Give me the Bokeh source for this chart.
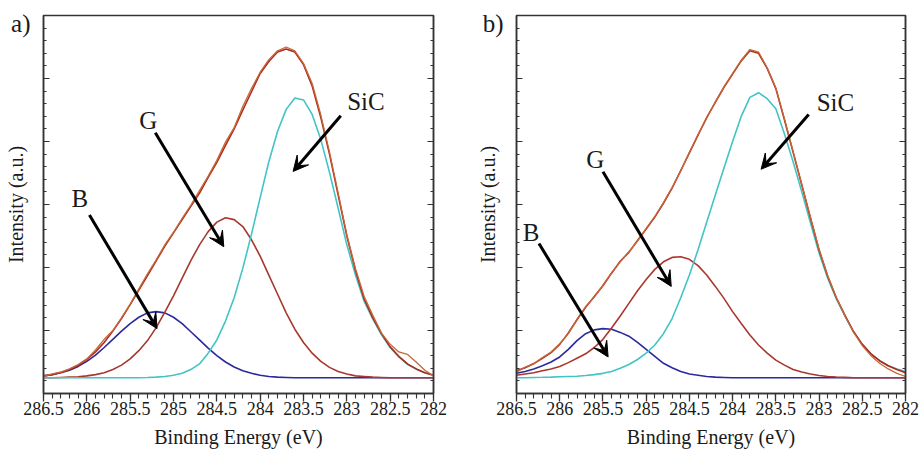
from bokeh.plotting import figure
from bokeh.layouts import row
from bokeh.models import (Range1d, LinearAxis, FixedTicker, CustomJSTickFormatter,
                          Arrow, VeeHead, Label)
from bokeh.embed import file_html
from bokeh.resources import INLINE

# ---------------- data ----------------
energy = [286.5, 286.4, 286.3, 286.2, 286.1, 286.0, 285.9, 285.8, 285.7, 285.6,
          285.5, 285.4, 285.3, 285.2, 285.1, 285.0, 284.9, 284.8, 284.7, 284.6,
          284.5, 284.4, 284.3, 284.2, 284.1, 284.0, 283.9, 283.8, 283.7, 283.6,
          283.5, 283.4, 283.3, 283.2, 283.1, 283.0, 282.9, 282.8, 282.7, 282.6,
          282.5, 282.4, 282.3, 282.2, 282.1, 282.0]

# panel a)
raw_a = [0.27, 0.31, 0.34, 0.39, 0.46, 0.55, 0.69, 0.86, 1.00, 1.20,
         1.42, 1.66, 1.90, 2.12, 2.36, 2.56, 2.78, 2.99, 3.22, 3.45,
         3.70, 3.99, 4.22, 4.56, 4.84, 5.10, 5.30, 5.44, 5.50, 5.44,
         5.24, 4.92, 4.42, 3.83, 3.18, 2.52, 1.98, 1.54, 1.24, 0.96,
         0.78, 0.66, 0.62, 0.50, 0.37, 0.28]
fit_a = [0.28, 0.30, 0.335, 0.38, 0.445, 0.54, 0.66, 0.81, 0.99, 1.19,
         1.41, 1.64, 1.87, 2.105, 2.34, 2.55, 2.76, 2.97, 3.18, 3.43,
         3.67, 3.94, 4.20, 4.50, 4.79, 5.08, 5.27, 5.42, 5.47, 5.42,
         5.22, 4.88, 4.38, 3.80, 3.15, 2.50, 1.95, 1.50, 1.20, 0.95,
         0.74, 0.59, 0.47, 0.39, 0.33, 0.29]
sic_a = [0.25, 0.25, 0.25, 0.25, 0.25, 0.25, 0.25, 0.25, 0.25, 0.25,
         0.25, 0.25, 0.254, 0.26, 0.27, 0.29, 0.32, 0.38, 0.47, 0.64,
         0.85, 1.15, 1.52, 1.99, 2.53, 3.11, 3.68, 4.16, 4.51, 4.69,
         4.66, 4.43, 4.03, 3.51, 2.94, 2.36, 1.88, 1.46, 1.18, 0.93,
         0.73, 0.58, 0.46, 0.39, 0.33, 0.29]
g_a = [0.25, 0.25, 0.255, 0.26, 0.265, 0.28, 0.30, 0.33, 0.38, 0.45,
       0.55, 0.68, 0.84, 1.045, 1.29, 1.55, 1.83, 2.11, 2.36, 2.57,
       2.72, 2.79, 2.76, 2.65, 2.44, 2.18, 1.88, 1.58, 1.28, 1.02,
       0.81, 0.64, 0.51, 0.415, 0.35, 0.31, 0.28, 0.27, 0.26, 0.255,
       0.25, 0.25, 0.25, 0.25, 0.25, 0.25]
b_a = [0.28, 0.30, 0.33, 0.37, 0.43, 0.51, 0.61, 0.73, 0.86, 0.99,
       1.11, 1.21, 1.28, 1.30, 1.28, 1.21, 1.11, 0.98, 0.85, 0.72,
       0.60, 0.50, 0.42, 0.36, 0.32, 0.29, 0.27, 0.26, 0.255, 0.25,
       0.25, 0.25, 0.25, 0.25, 0.25, 0.25, 0.25, 0.25, 0.25, 0.25,
       0.25, 0.25, 0.25, 0.25, 0.25, 0.25]

# panel b)
raw_b = [0.34, 0.42, 0.47, 0.57, 0.66, 0.79, 0.95, 1.18, 1.38, 1.53,
         1.72, 1.92, 2.09, 2.25, 2.42, 2.62, 2.81, 3.03, 3.27, 3.53,
         3.83, 4.11, 4.37, 4.63, 4.87, 5.08, 5.29, 5.46, 5.42, 5.17,
         4.85, 4.36, 3.84, 3.32, 2.80, 2.29, 1.87, 1.52, 1.23, 0.97,
         0.76, 0.60, 0.48, 0.39, 0.32, 0.27]
fit_b = [0.36, 0.41, 0.475, 0.56, 0.65, 0.78, 0.96, 1.17, 1.37, 1.54,
         1.71, 1.91, 2.10, 2.24, 2.43, 2.61, 2.80, 3.02, 3.26, 3.54,
         3.82, 4.10, 4.38, 4.62, 4.86, 5.07, 5.28, 5.44, 5.40, 5.16,
         4.84, 4.34, 3.83, 3.31, 2.79, 2.28, 1.86, 1.52, 1.24, 0.98,
         0.78, 0.63, 0.52, 0.44, 0.38, 0.33]
sic_b = [0.25, 0.25, 0.255, 0.257, 0.26, 0.265, 0.27, 0.275, 0.285, 0.30,
         0.32, 0.35, 0.40, 0.46, 0.54, 0.64, 0.77, 0.95, 1.19, 1.52,
         1.88, 2.28, 2.72, 3.15, 3.58, 4.00, 4.40, 4.70, 4.775, 4.68,
         4.52, 4.12, 3.68, 3.20, 2.71, 2.23, 1.83, 1.50, 1.23, 0.98,
         0.78, 0.63, 0.52, 0.44, 0.39, 0.35]
g_b = [0.29, 0.31, 0.33, 0.36, 0.39, 0.43, 0.49, 0.56, 0.63, 0.73,
       0.86, 1.04, 1.23, 1.43, 1.63, 1.81, 1.97, 2.09, 2.16, 2.17,
       2.13, 2.03, 1.88, 1.70, 1.51, 1.30, 1.11, 0.93, 0.77, 0.64,
       0.53, 0.45, 0.38, 0.34, 0.31, 0.285, 0.27, 0.262, 0.256, 0.25,
       0.25, 0.25, 0.25, 0.25, 0.25, 0.25]
b_b = [0.32, 0.35, 0.39, 0.44, 0.50, 0.58, 0.70, 0.84, 0.95, 1.01,
       1.03, 1.02, 0.97, 0.91, 0.81, 0.70, 0.59, 0.48, 0.41, 0.35,
       0.31, 0.29, 0.27, 0.26, 0.255, 0.25, 0.25, 0.25, 0.25, 0.25,
       0.25, 0.25, 0.25, 0.25, 0.25, 0.25, 0.25, 0.25, 0.25, 0.25,
       0.25, 0.25, 0.25, 0.25, 0.25, 0.25]

x_major_ticks = [286.5, 286.0, 285.5, 285.0, 284.5, 284.0, 283.5, 283.0, 282.5, 282.0]
x_tick_labels = ["286.5", "286", "285.5", "285", "284.5", "284", "283.5", "283", "282.5", "282"]
peak_names = ["SiC", "G", "B"]
panel_names = ["a)", "b)"]

# ---------------- styling ----------------
SERIF = "Liberation Serif"
C_RAW = "#c4683a"
C_FIT = "#b02818"
C_SIC = "#40c4c6"
C_G = "#a8382e"
C_B = "#2a2a9c"
FRAME = "#333333"
TXT = "#1a1a1a"

x_minor = [round(282.0 + 0.1 * i, 1) for i in range(46)]
y_major = [1, 2, 3, 4, 5]
y_minor = [round(0.2 * i, 1) for i in range(1, 30)]

fmt_js = """
for (let i = 0; i < major_vals.length; i++) {
    if (Math.abs(major_vals[i] - tick) < 1e-6) { return major_labels[i]; }
}
return "";
"""
name_js = "return panel_name;"


def tick_axis():
    return LinearAxis(ticker=FixedTicker(ticks=y_major, minor_ticks=y_minor),
                      major_label_text_font_size="0px", major_label_text_color=None,
                      major_label_standoff=0,
                      major_tick_in=6, major_tick_out=0, minor_tick_in=3, minor_tick_out=0,
                      axis_line_color=FRAME, axis_line_width=1.5,
                      major_tick_line_color=FRAME, minor_tick_line_color=FRAME)


def make_panel(series, annotations, left, right, fw):
    raw, fit, sic, g, b = series
    p = figure(frame_width=fw, frame_height=378,
               x_range=Range1d(286.5, 282.0), y_range=Range1d(0, 6),
               output_backend="svg", toolbar_location=None,
               min_border_left=left, min_border_right=right,
               min_border_top=15, min_border_bottom=57,
               x_axis_label="Binding Energy (eV)", y_axis_location=None,
               background_fill_color="white", border_fill_color="white")
    p.xgrid.visible = False
    p.ygrid.visible = False
    p.outline_line_color = FRAME
    p.outline_line_width = 1.5

    xa = p.xaxis[0]
    xa.ticker = FixedTicker(ticks=x_major_ticks, minor_ticks=x_minor)
    xa.formatter = CustomJSTickFormatter(args=dict(major_vals=x_major_ticks,
                                                   major_labels=x_tick_labels),
                                         code=fmt_js)
    xa.major_label_text_font = SERIF
    xa.major_label_text_font_size = "18px"
    xa.major_label_text_color = TXT
    xa.major_label_standoff = 0
    xa.axis_label_text_font = SERIF
    xa.axis_label_text_font_size = "20px"
    xa.axis_label_text_font_style = "normal"
    xa.axis_label_text_color = TXT
    xa.axis_label_standoff = 8
    xa.major_tick_in = 0
    xa.major_tick_out = 8
    xa.minor_tick_in = 0
    xa.minor_tick_out = 5
    xa.axis_line_color = FRAME
    xa.axis_line_width = 1.5
    xa.major_tick_line_color = FRAME
    xa.major_tick_line_width = 1.3
    xa.minor_tick_line_color = FRAME
    xa.minor_tick_line_width = 1.1

    # left: tick axis (next to the frame), then the axis carrying the panel name + title
    p.add_layout(tick_axis(), "left")
    px, py = annotations["panel"]
    lab = LinearAxis(ticker=FixedTicker(ticks=[py], minor_ticks=[]),
                     formatter=CustomJSTickFormatter(args=dict(panel_name=annotations["name"]),
                                                     code=name_js),
                     major_label_text_font=SERIF, major_label_text_font_size="25px",
                     major_label_text_color=TXT, major_label_standoff=13,
                     major_tick_in=0, major_tick_out=0, minor_tick_in=0, minor_tick_out=0,
                     axis_line_color=None, major_tick_line_color=None, minor_tick_line_color=None,
                     axis_label="Intensity (a.u.)", axis_label_text_font=SERIF,
                     axis_label_text_font_size="20px", axis_label_text_font_style="normal",
                     axis_label_text_color=TXT, axis_label_standoff=-19)
    p.add_layout(lab, "left")
    p.add_layout(tick_axis(), "right")

    p.line(energy, b, line_color=C_B, line_width=1.6)
    p.line(energy, g, line_color=C_G, line_width=1.6)
    p.line(energy, sic, line_color=C_SIC, line_width=1.6)
    p.line(energy, fit, line_color=C_FIT, line_width=1.6)
    p.line(energy, raw, line_color=C_RAW, line_width=1.3)

    for name, (tx, ty), (x0, y0, x1, y1) in zip(peak_names, annotations["text"], annotations["arrows"]):
        p.add_layout(Arrow(end=VeeHead(size=15, fill_color="black", line_color="black", line_width=1),
                           x_start=x0, y_start=y0, x_end=x1, y_end=y1,
                           line_color="black", line_width=3))
        p.add_layout(Label(x=tx, y=ty, text=name, text_font=SERIF, text_font_size="25px",
                           text_align="center", text_baseline="middle", text_color=TXT))
    return p


ann_a = dict(name=panel_names[0], panel=(286.77, 5.87),
             text=[(282.78, 4.64), (285.29, 4.33), (286.08, 3.09)],
             arrows=[(283.07, 4.41, 283.62, 3.525), (285.21, 4.14, 284.42, 2.33),
                     (285.97, 2.835, 285.19, 1.03)])
ann_b = dict(name=panel_names[1], panel=(286.816, 5.88),
             text=[(282.81, 4.62), (285.59, 3.71), (286.33, 2.56)],
             arrows=[(283.12, 4.43, 283.67, 3.56), (285.50, 3.52, 284.71, 1.70),
                     (286.24, 2.38, 285.44, 0.58)])

pa = make_panel((raw_a, fit_a, sic_a, g_a, b_a), ann_a, 43, 37, 390)
pb = make_panel((raw_b, fit_b, sic_b, g_b, b_b), ann_b, 46, 17, 389)

layout = row(pa, pb)
open("out.html", "w").write(file_html(layout, INLINE))
